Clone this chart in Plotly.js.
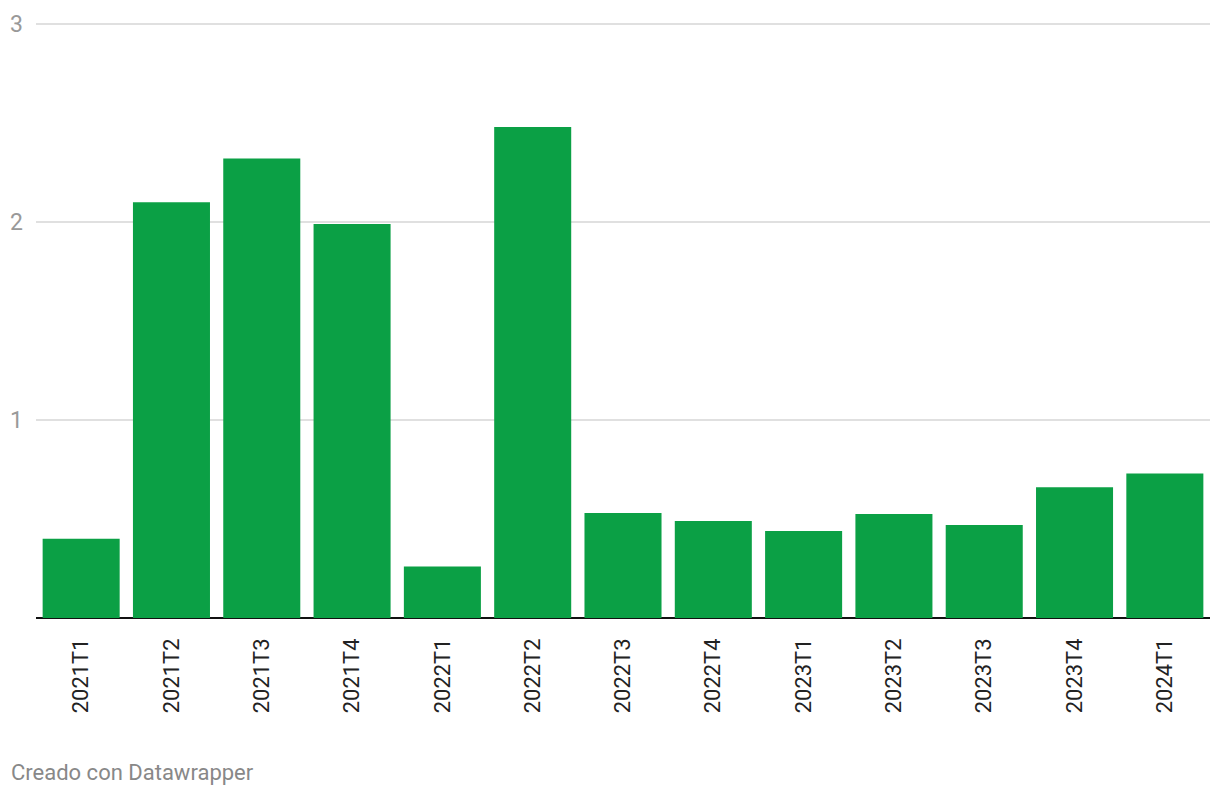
<!DOCTYPE html>
<html>
<head>
<meta charset="utf-8">
<script src="https://cdn.plot.ly/plotly-3.0.1.min.js"></script>
<style>html,body{margin:0;padding:0;background:#fff}#chart{width:1220px;height:796px}</style>
</head>
<body>
<div id="chart"></div>
<script>
const categories = ["2021T1","2021T2","2021T3","2021T4","2022T1","2022T2","2022T3","2022T4","2023T1","2023T2","2023T3","2023T4","2024T1"];
const values = [0.40, 2.10, 2.32, 1.99, 0.26, 2.48, 0.53, 0.49, 0.44, 0.525, 0.47, 0.66, 0.73];
const yTicks = [1, 2, 3];

const trace = {
  type: 'bar',
  x: categories,
  y: values,
  marker: {color: '#0ba045', line: {width: 0}},
  hoverinfo: 'x+y'
};

const layout = {
  width: 1220, height: 796,
  margin: {l: 36, r: 10, t: 22, b: 178},
  paper_bgcolor: '#fff', plot_bgcolor: '#fff',
  bargap: 0.147,
  showlegend: false,
  font: {family: 'Roboto, sans-serif'},
  xaxis: {
    type: 'category',
    tickangle: -90,
    tickfont: {size: 22, color: '#222'},
    showgrid: false,
    showline: false,
    zeroline: false,
    ticks: '',
    ticklabelstandoff: 15,
    fixedrange: true
  },
  yaxis: {
    range: [0, 3.01],
    tickvals: yTicks,
    ticktext: yTicks.map(String),
    tickfont: {size: 23, color: '#999'},
    showgrid: true,
    gridcolor: '#e0e0e0',
    gridwidth: 1.5,
    zeroline: true,
    zerolinecolor: '#111',
    zerolinewidth: 2,
    showline: false,
    ticks: '',
    ticklabelstandoff: 12,
    fixedrange: true
  },
  annotations: [{
    text: 'Creado con Datawrapper',
    xref: 'paper', yref: 'paper',
    x: 0, y: 0,
    xshift: -27, yshift: -154,
    xanchor: 'left', yanchor: 'middle',
    showarrow: false,
    font: {size: 22, color: '#888'}
  }]
};

Plotly.newPlot('chart', [trace], layout, {displayModeBar: false, staticPlot: true});
</script>
</body>
</html>
